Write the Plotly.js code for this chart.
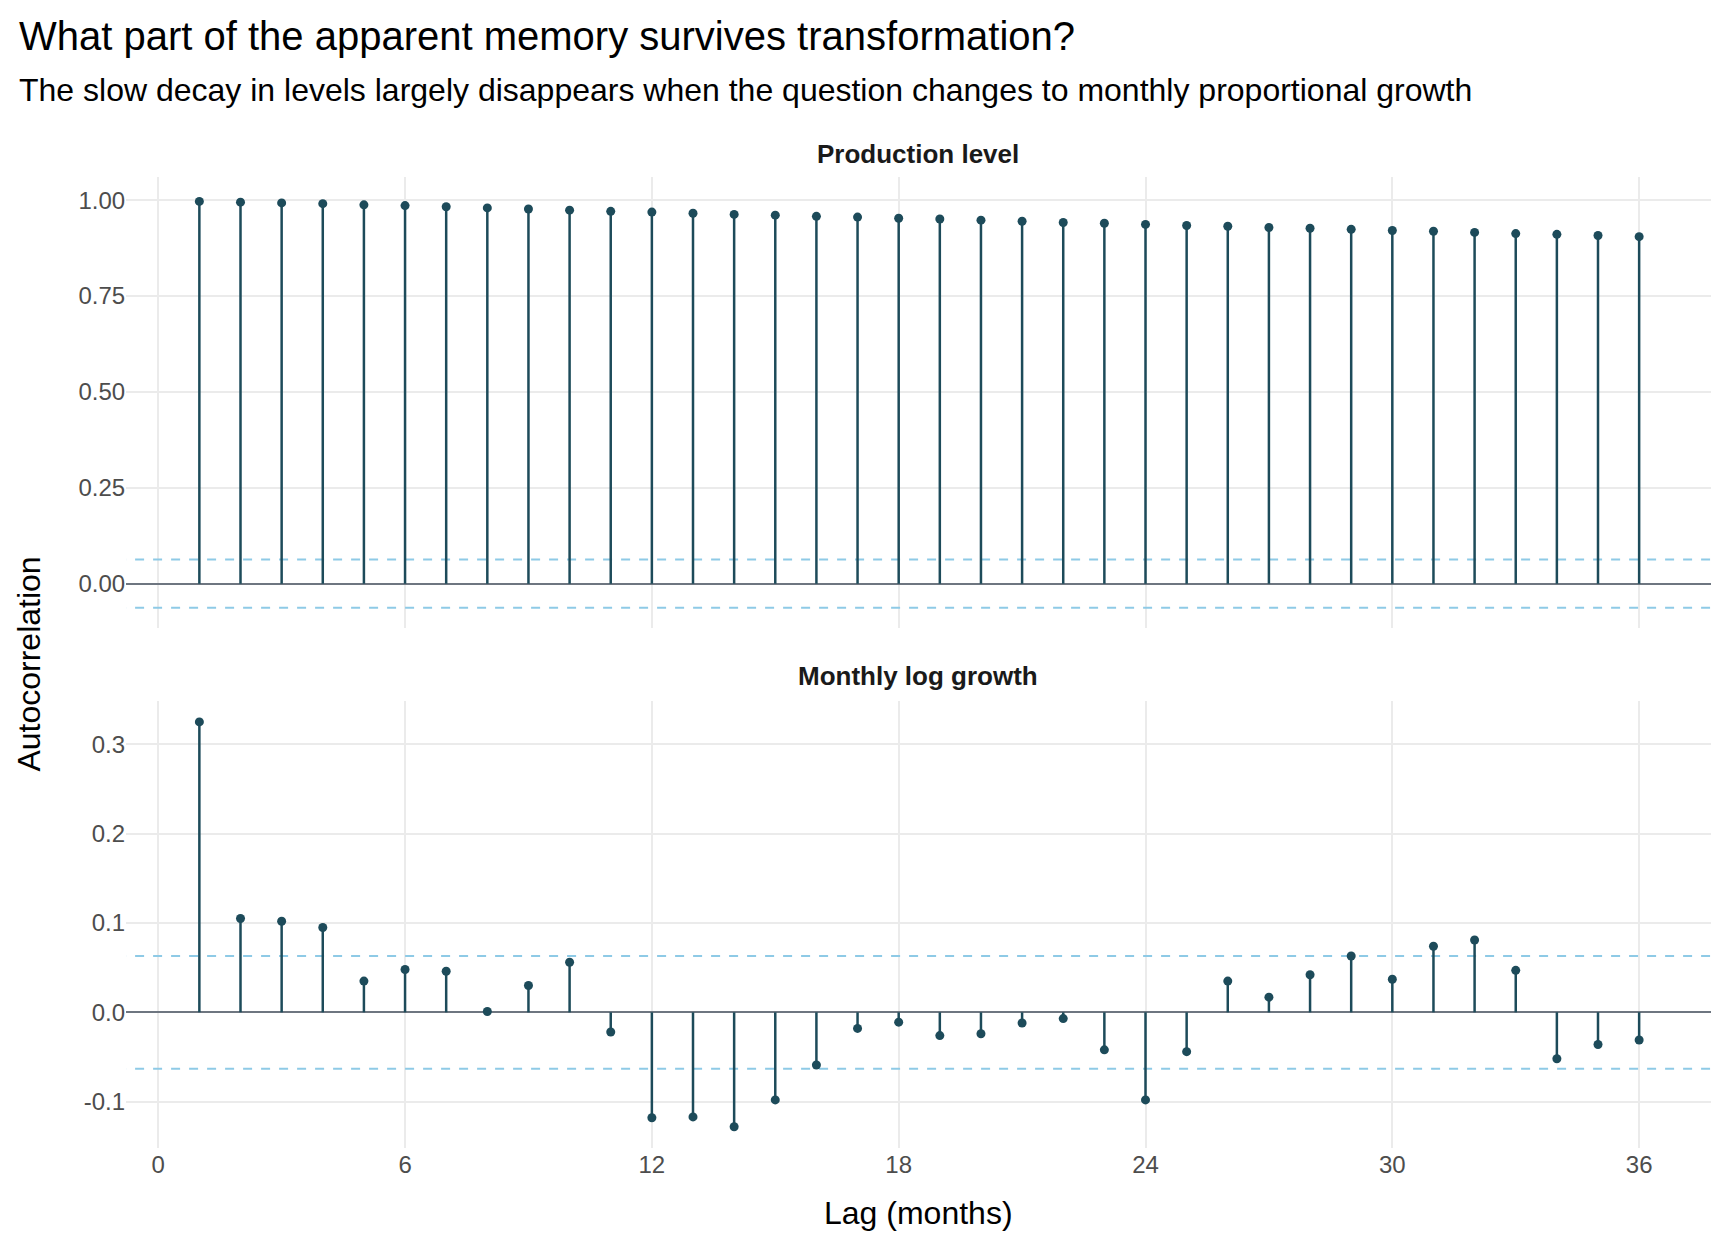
<!DOCTYPE html>
<html>
<head>
<meta charset="utf-8">
<script src="https://cdn.plot.ly/plotly-3.0.1.min.js"></script>
<style>html,body{margin:0;padding:0;background:#fff}#chart{width:1728px;height:1248px}</style>
</head>
<body>
<div id="chart"></div>
<script>
const lags = Array.from({ length: 36 }, (_, i) => i + 1);
const levelAcf = [0.997, 0.995, 0.993, 0.991, 0.988, 0.986, 0.983, 0.980, 0.977, 0.974, 0.971, 0.969,
  0.966, 0.963, 0.961, 0.958, 0.956, 0.953, 0.951, 0.948, 0.945, 0.942, 0.940, 0.937,
  0.934, 0.932, 0.929, 0.927, 0.924, 0.921, 0.919, 0.916, 0.913, 0.911, 0.908, 0.905];
const growthAcf = [0.325, 0.105, 0.102, 0.095, 0.035, 0.048, 0.046, 0.001, 0.030, 0.056, -0.022, -0.118,
  -0.117, -0.128, -0.098, -0.059, -0.018, -0.011, -0.026, -0.024, -0.012, -0.007, -0.042, -0.098,
  -0.044, 0.035, 0.017, 0.042, 0.063, 0.037, 0.074, 0.081, 0.047, -0.052, -0.036, -0.031];
const ciBound = 0.063;
const xTicks = [0, 6, 12, 18, 24, 30, 36];

const STEM = "#1d4b5a";
const BAND = "#8ecae6";
const FONT = "'Liberation Sans', Arial, sans-serif";

function stems(values, xa, ya) {
  const x = [], y = [];
  lags.forEach((l, i) => { x.push(l, l, null); y.push(0, values[i], null); });
  return [
    { type: "scatter", mode: "lines", x, y, xaxis: xa, yaxis: ya, line: { color: STEM, width: 2.5 }, hoverinfo: "skip" },
    { type: "scatter", mode: "markers", x: lags, y: values, xaxis: xa, yaxis: ya, marker: { color: STEM, size: 9 } },
  ];
}
function band(xa, ya) {
  return [ciBound, -ciBound].map((v) => ({
    type: "scatter", mode: "lines", x: [-1, 38], y: [v, v], xaxis: xa, yaxis: ya,
    line: { color: BAND, width: 2, dash: "dash" }, hoverinfo: "skip",
  }));
}

const xBase = {
  range: [-0.78, 37.74], tickvals: xTicks, showgrid: true, gridcolor: "#ebebeb", gridwidth: 2,
  zeroline: false, showline: false, ticks: "", tickfont: { family: FONT, size: 24, color: "#4d4d4d" },
  domain: [0.073, 0.99],
};
const yBase = {
  showgrid: true, gridcolor: "#ebebeb", gridwidth: 2, zeroline: true, zerolinecolor: "#6e7680", zerolinewidth: 2,
  ticks: "", tickfont: { family: FONT, size: 24, color: "#4d4d4d" }, showline: false,
};

const layout = {
  width: 1728, height: 1248, margin: { l: 0, r: 0, t: 0, b: 0 },
  paper_bgcolor: "#fff", plot_bgcolor: "#fff", showlegend: false,
  xaxis: { ...xBase, anchor: "y", showticklabels: false },
  yaxis: { ...yBase, domain: [0.497, 0.858], range: [-0.115, 1.06], tickvals: [0, 0.25, 0.5, 0.75, 1], ticktext: ["0.00", "0.25", "0.50", "0.75", "1.00"] },
  xaxis2: { ...xBase, anchor: "y2" },
  yaxis2: { ...yBase, domain: [0.08, 0.438], range: [-0.152, 0.348], tickvals: [-0.1, 0, 0.1, 0.2, 0.3], ticktext: ["-0.1", "0.0", "0.1", "0.2", "0.3"] },
  annotations: [
    { text: "What part of the apparent memory survives transformation?", xref: "paper", yref: "paper", x: 0.01, y: 0.99, xanchor: "left", yanchor: "top", showarrow: false, font: { family: FONT, size: 40, color: "#000" } },
    { text: "The slow decay in levels largely disappears when the question changes to monthly proportional growth", xref: "paper", yref: "paper", x: 0.01, y: 0.944, xanchor: "left", yanchor: "top", showarrow: false, font: { family: FONT, size: 32, color: "#000" } },
    { text: "<b>Production level</b>", xref: "paper", yref: "paper", x: 0.5315, y: 0.863, xanchor: "center", yanchor: "bottom", showarrow: false, font: { family: FONT, size: 26, color: "#1a1a1a" } },
    { text: "<b>Monthly log growth</b>", xref: "paper", yref: "paper", x: 0.5315, y: 0.445, xanchor: "center", yanchor: "bottom", showarrow: false, font: { family: FONT, size: 26, color: "#1a1a1a" } },
    { text: "Autocorrelation", xref: "paper", yref: "paper", x: 0.005, y: 0.468, xanchor: "left", yanchor: "middle", textangle: -90, showarrow: false, font: { family: FONT, size: 32, color: "#000" } },
    { text: "Lag (months)", xref: "paper", yref: "paper", x: 0.5315, y: 0.012, xanchor: "center", yanchor: "bottom", showarrow: false, font: { family: FONT, size: 32, color: "#000" } },
  ],
};

Plotly.newPlot("chart", [
  ...band("x", "y"), ...stems(levelAcf, "x", "y"),
  ...band("x2", "y2"), ...stems(growthAcf, "x2", "y2"),
], layout, { displayModeBar: false });
</script>
</body>
</html>
